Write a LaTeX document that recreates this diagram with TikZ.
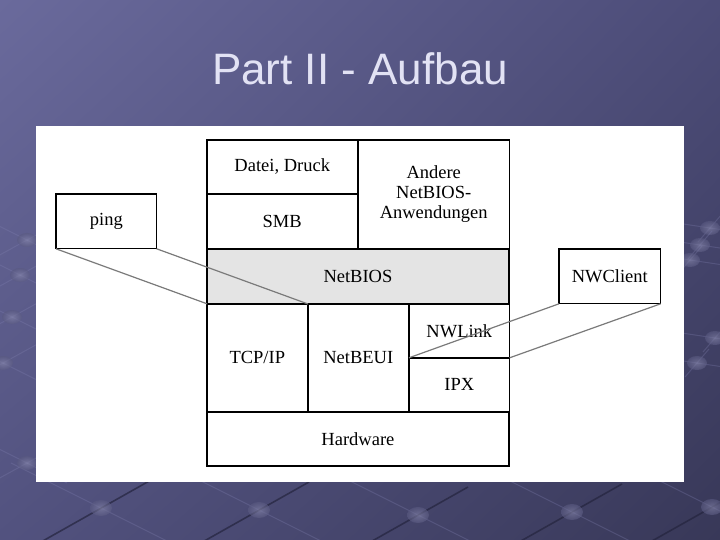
\documentclass[tikz,border=0pt]{standalone}
\usepackage{fontspec}
\usetikzlibrary{shadings}
\setmainfont{Liberation Serif}
\newfontfamily\titlefont{Liberation Sans}
\definecolor{bgUL}{HTML}{6A6A9C}
\definecolor{bgUR}{HTML}{4C4C78}
\definecolor{bgLL}{HTML}{52527F}
\definecolor{bgLR}{HTML}{383858}
\definecolor{titlecol}{HTML}{E2E2F4}
\definecolor{decodark}{HTML}{24243E}
\definecolor{decolight}{HTML}{8080B0}
\definecolor{ballcol}{HTML}{6A6A98}
\definecolor{netbiosfill}{HTML}{E4E4E4}
\definecolor{conncol}{HTML}{7A7A7A}
\tikzset{
  cell/.style={draw=black, line width=1.5bp, anchor=north west, inner sep=0pt, outer sep=0pt,
    font=\fontsize{18.5bp}{20bp}\selectfont, align=center},
  sidebox/.style={draw=black, line width=1.1bp, anchor=north west, inner sep=0pt, outer sep=0pt,
    font=\fontsize{18.5bp}{20bp}\selectfont, align=center},
  conn/.style={draw=conncol, line width=1.2bp},
  darkline/.style={draw=decodark, line width=1.6bp, opacity=0.7},
  lightline/.style={draw=decolight, line width=1bp, opacity=0.3},
  ball/.style={inner color=ballcol!80!white, outer color=ballcol!85!black, draw=none, opacity=0.6}
}
\begin{document}
\begin{tikzpicture}[x=1bp,y=-1bp]
\useasboundingbox (0,0) rectangle (720,540);
% background
\shade[upper left=bgUL, upper right=bgUR, lower left=bgLL, lower right=bgLR] (0,0) rectangle (720,540);
% decorative network
\foreach \bx/\by in {101/508,259/510,418/515,572/512,712/507}{
  \draw[lightline] (\bx-90,\by-45) -- (\bx+80,\by+40);
  \draw[darkline] (\bx-60,\by+34) -- (\bx+50,\by-28);
  \shade[ball] (\bx,\by) ellipse (11 and 8);
}
\foreach \bx/\by in {710/228,700/245,690/260,715/338,697/363}{
  \draw[lightline] (\bx-40,\by-6) -- (\bx+40,\by+6);
  \draw[lightline] (\bx-12,\by+14) -- (\bx+12,\by-14);
  \shade[ball] (\bx,\by) ellipse (10 and 7);
}
\foreach \bx/\by in {27/240,20/275,12/317,3/363,27/463}{
  \draw[lightline] (\bx-40,\by-20) -- (\bx+40,\by+20);
  \draw[lightline] (\bx-40,\by+22) -- (\bx+40,\by-22);
  \shade[ball] (\bx,\by) ellipse (10 and 7);
}
% title
\node[font=\titlefont\fontsize{44bp}{50bp}\selectfont, text=titlecol, anchor=base] (title) at (360,85) {Part II - Aufbau};
% white panel
\fill[white] (36,126) rectangle (684,482);
% protocol stack
\node[cell, minimum width=151, minimum height=54] (datei) at (207,140) {Datei, Druck};
\node[cell, minimum width=151, minimum height=55] (smb) at (207,194) {SMB};
\node[cell, minimum width=152, minimum height=109] (andere) at (358,140) {Andere\\NetBIOS-\\Anwendungen};
\node[cell, fill=netbiosfill, minimum width=303, minimum height=55] (netbios) at (207,249) {NetBIOS};
\node[cell, minimum width=101, minimum height=108] (tcpip) at (207,304) {TCP/IP};
\node[cell, minimum width=101, minimum height=108] (netbeui) at (308,304) {NetBEUI};
\node[cell, minimum width=101, minimum height=54] (nwlink) at (409,304) {NWLink};
\node[cell, minimum width=101, minimum height=54] (ipx) at (409,358) {IPX};
\node[cell, minimum width=303, minimum height=54] (hardware) at (207,412) {Hardware};
% side boxes
\node[sidebox, minimum width=101, minimum height=55] (ping) at (56,194) {ping};
\node[sidebox, minimum width=102, minimum height=55] (nwclient) at (559,249) {NWClient};
% connectors
\draw[conn] (ping.south west) -- (netbios.south west);
\draw[conn] (ping.south east) -- (netbeui.north west);
\draw[conn] (nwclient.south west) -- (nwlink.south west);
\draw[conn] (nwclient.south east) -- (nwlink.south east);
\end{tikzpicture}
\end{document}
